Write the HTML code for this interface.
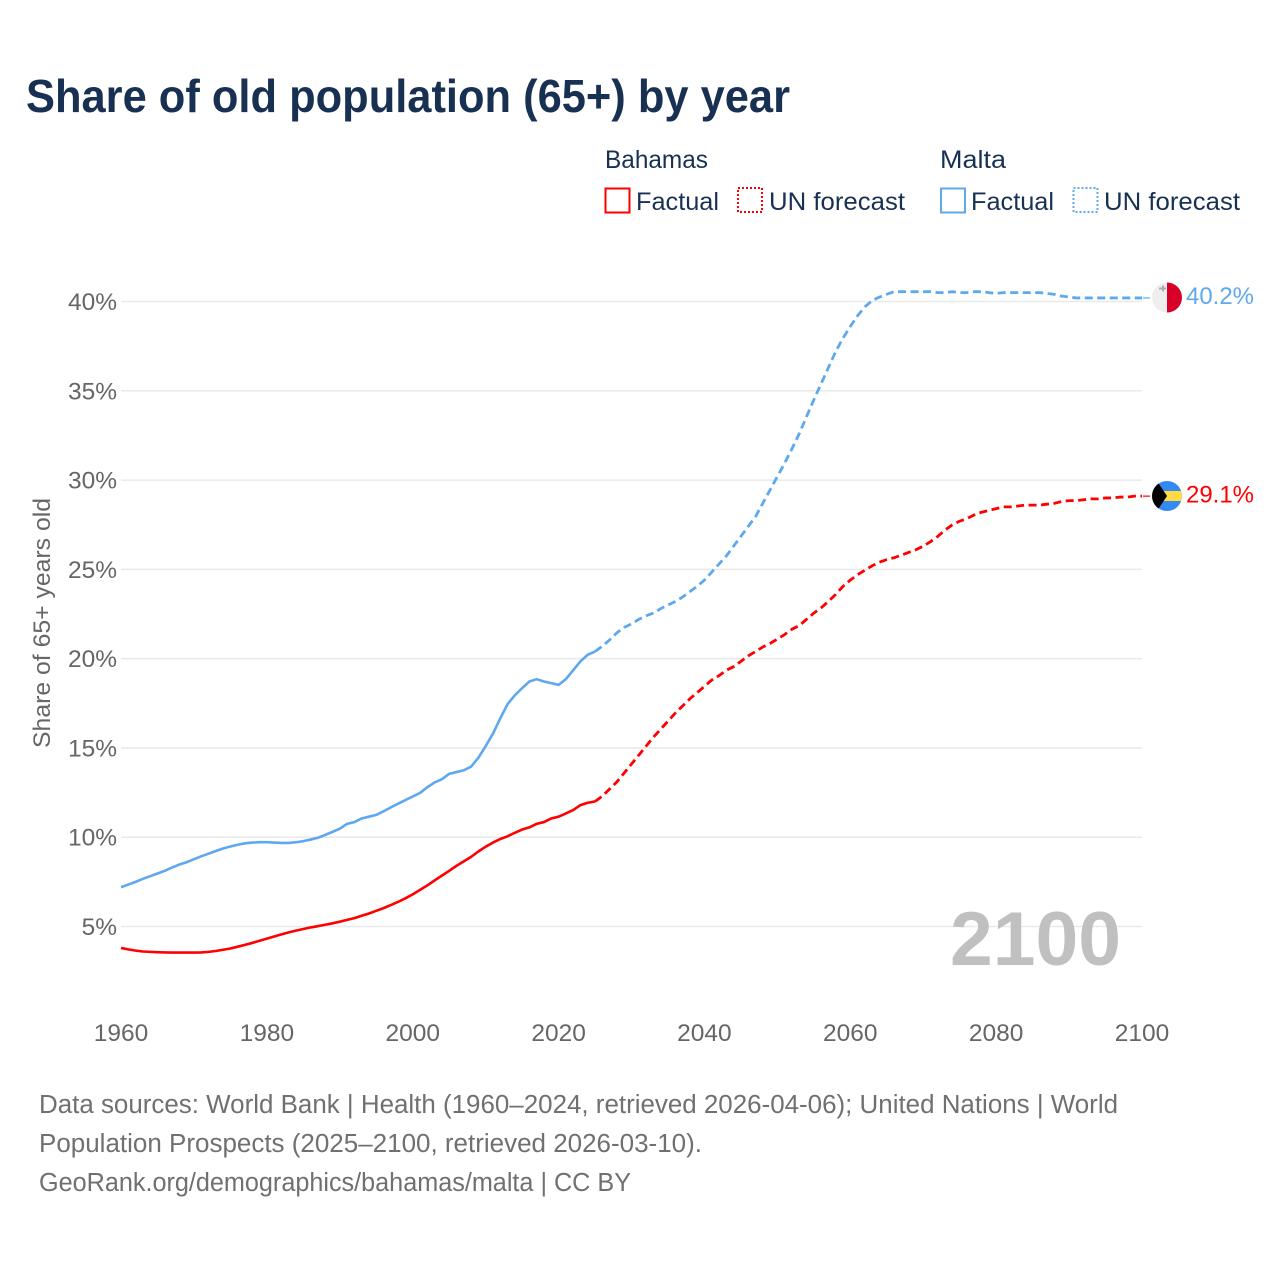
<!DOCTYPE html>
<html lang="en">
<head>
<meta charset="utf-8">
<title>Share of old population (65+) by year</title>
<style>
html,body{margin:0;padding:0;background:#fff;}
svg{display:block;}
text{font-family:"Liberation Sans",sans-serif;}
</style>
</head>
<body>
<svg id="chart" xmlns="http://www.w3.org/2000/svg" width="1280" height="1280" viewBox="0 0 1280 1280">
  <rect width="1280" height="1280" fill="#fff"/>
  <text x="26" y="112" font-size="46" font-weight="700" fill="#183153" textLength="764" lengthAdjust="spacingAndGlyphs">Share of old population (65+) by year</text>

  <g font-size="25" fill="#183153">
    <text x="605" y="168" textLength="103" lengthAdjust="spacingAndGlyphs">Bahamas</text>
    <text x="940" y="168" textLength="66" lengthAdjust="spacingAndGlyphs">Malta</text>
    <rect x="605.5" y="188.5" width="24" height="24" fill="none" stroke="#ff0000" stroke-width="2"/>
    <text x="636" y="210" textLength="83" lengthAdjust="spacingAndGlyphs">Factual</text>
    <rect x="738" y="188" width="24" height="24" fill="none" stroke="#ff0000" stroke-width="2" stroke-dasharray="2 2"/>
    <text x="769" y="210" textLength="136" lengthAdjust="spacingAndGlyphs">UN forecast</text>
    <rect x="941" y="188.5" width="24" height="24" fill="none" stroke="#5fa8ee" stroke-width="2"/>
    <text x="971" y="210" textLength="83" lengthAdjust="spacingAndGlyphs">Factual</text>
    <rect x="1073.5" y="188" width="24" height="24" fill="none" stroke="#5fa8ee" stroke-width="2" stroke-dasharray="2 2"/>
    <text x="1104" y="210" textLength="136" lengthAdjust="spacingAndGlyphs">UN forecast</text>
  </g>

  <g id="grid"></g>
  <g id="yticks"></g>
  <g id="xticks"></g>

  <text transform="translate(50,623) rotate(-90)" text-anchor="middle" font-size="24.5" fill="#666" textLength="250" lengthAdjust="spacingAndGlyphs">Share of 65+ years old</text>

  <text x="950" y="965" font-size="76" font-weight="700" fill="#bbbbbb" fill-opacity="0.93" textLength="171" lengthAdjust="spacingAndGlyphs">2100</text>

  <g id="series"></g>

  <defs>
    <clipPath id="flag-clip-mt"><circle cx="1167" cy="297.5" r="15"/></clipPath>
    <clipPath id="flag-clip-bs"><circle cx="1167" cy="496" r="15"/></clipPath>
  </defs>
  <g clip-path="url(#flag-clip-mt)">
    <rect x="1152" y="282" width="15" height="31" fill="#eeeeee"/>
    <rect x="1167" y="282" width="15" height="31" fill="#d80027"/>
    <path d="M1159 287.5h3v-2h2v2h2v2h-2v2h-2v-2h-3z" fill="#acacac"/>
  </g>
  <g clip-path="url(#flag-clip-bs)">
    <rect x="1152" y="481" width="30" height="30" fill="#338af3"/>
    <rect x="1152" y="491" width="30" height="10" fill="#ffda44"/>
    <path d="M1157 481 L1167 496 L1157 511 L1150 511 L1150 481 Z" fill="#000"/>
  </g>
  <text x="1186" y="304" font-size="24.5" fill="#5fa8ee" textLength="68" lengthAdjust="spacingAndGlyphs">40.2%</text>
  <text x="1186" y="502.5" font-size="24.5" fill="#ff0000" textLength="68" lengthAdjust="spacingAndGlyphs">29.1%</text>

  <g font-size="25.5" fill="#707070">
    <text x="39" y="1113" textLength="1079" lengthAdjust="spacingAndGlyphs">Data sources: World Bank | Health (1960–2024, retrieved 2026-04-06); United Nations | World</text>
    <text x="39" y="1152" textLength="663" lengthAdjust="spacingAndGlyphs">Population Prospects (2025–2100, retrieved 2026-03-10).</text>
    <text x="39" y="1191" textLength="592" lengthAdjust="spacingAndGlyphs">GeoRank.org/demographics/bahamas/malta | CC BY</text>
  </g>
</svg>
<script>
const firstYear = 1960;
const lastFactualYear = 2025;
const xTickYears = [1960, 1980, 2000, 2020, 2040, 2060, 2080, 2100];
const yTickValues = [5, 10, 15, 20, 25, 30, 35, 40];
const bahamasFactual = [3.8,3.72,3.65,3.6,3.58,3.56,3.55,3.54,3.54,3.54,3.54,3.55,3.58,3.63,3.7,3.77,3.87,3.97,4.08,4.2,4.32,4.44,4.56,4.67,4.77,4.86,4.95,5.02,5.1,5.18,5.27,5.37,5.47,5.6,5.73,5.88,6.03,6.2,6.38,6.58,6.8,7.05,7.3,7.58,7.85,8.12,8.4,8.65,8.9,9.2,9.47,9.7,9.9,10.05,10.25,10.43,10.55,10.75,10.85,11.05,11.15,11.33,11.52,11.8,11.93,12.0];
const bahamasForecast = [12.3,12.7,13.1,13.6,14.1,14.6,15.1,15.6,16.05,16.5,16.95,17.35,17.75,18.1,18.45,18.8,19.05,19.35,19.55,19.85,20.15,20.4,20.65,20.85,21.1,21.35,21.65,21.85,22.2,22.55,22.85,23.2,23.6,24.05,24.4,24.7,24.95,25.2,25.4,25.55,25.65,25.8,25.95,26.1,26.3,26.55,26.85,27.2,27.5,27.7,27.85,28.05,28.2,28.3,28.4,28.5,28.5,28.55,28.6,28.6,28.6,28.65,28.7,28.8,28.85,28.85,28.9,28.95,28.95,29,29,29.05,29.05,29.1,29.1];
const maltaFactual = [7.2,7.35,7.5,7.67,7.82,7.97,8.12,8.3,8.47,8.6,8.77,8.93,9.08,9.23,9.37,9.48,9.58,9.66,9.7,9.72,9.72,9.7,9.68,9.68,9.72,9.78,9.87,9.97,10.13,10.3,10.48,10.75,10.85,11.05,11.15,11.25,11.45,11.67,11.88,12.08,12.28,12.48,12.8,13.07,13.25,13.55,13.65,13.75,13.95,14.45,15.1,15.8,16.65,17.45,17.95,18.35,18.72,18.85,18.72,18.63,18.53,18.85,19.35,19.85,20.22,20.4];
const maltaForecast = [20.7,21.05,21.45,21.75,21.95,22.2,22.4,22.55,22.8,23.0,23.2,23.45,23.75,24.05,24.4,24.85,25.3,25.75,26.3,26.85,27.4,27.95,28.7,29.45,30.2,30.95,31.75,32.6,33.55,34.5,35.4,36.3,37.2,37.95,38.6,39.2,39.7,40.05,40.25,40.4,40.55,40.55,40.55,40.55,40.55,40.55,40.5,40.5,40.55,40.5,40.5,40.55,40.55,40.5,40.45,40.5,40.5,40.5,40.5,40.5,40.5,40.45,40.4,40.3,40.25,40.2,40.2,40.2,40.2,40.2,40.2,40.2,40.2,40.2,40.2];

const NS = 'http://www.w3.org/2000/svg';
function xScale(year) { return 121 + (year - 1960) * (1142 - 121) / 140; }
function yScale(value) { return 1015.8 - value * (926.5 - 301.5) / 35; }

function make(tag, attrs, parent) {
  const el = document.createElementNS(NS, tag);
  for (const k in attrs) el.setAttribute(k, attrs[k]);
  parent.appendChild(el);
  return el;
}

const gridGroup = document.getElementById('grid');
const yTickGroup = document.getElementById('yticks');
const xTickGroup = document.getElementById('xticks');
const seriesGroup = document.getElementById('series');

yTickValues.forEach(function (v) {
  const line = make('line', {x1: 121, x2: 1142, y1: yScale(v), y2: yScale(v), stroke: '#e9e9e9', 'stroke-width': 1.5}, gridGroup);
  
  
  const label = make('text', {x: 117, y: yScale(v) + 8.5, 'text-anchor': 'end', 'font-size': 24.5, fill: '#666'}, yTickGroup);
  
  
  label.textContent = v + '%';
});

xTickYears.forEach(function (year) {
  const label = make('text', {x: xScale(year), y: 1041, 'text-anchor': 'middle', 'font-size': 24.5, fill: '#666'}, xTickGroup);
  
  
  label.textContent = String(year);
});

function buildPath(values, startYear) {
  return values.map(function (v, i) {
    return (i ? 'L' : 'M') + xScale(startYear + i).toFixed(2) + ' ' + yScale(v).toFixed(2);
  }).join(' ');
}

function drawSeries(name, color, factual, forecast) {
  const solid = make('path', {d: buildPath(factual, firstYear), fill: 'none', stroke: color, 'stroke-width': 2.6, 'stroke-linejoin': 'round'}, seriesGroup);
  
  
  const joined = [factual[factual.length - 1]].concat(forecast);
  const dashed = make('path', {d: buildPath(joined, lastFactualYear), fill: 'none', stroke: color, 'stroke-width': 2.8, 'stroke-dasharray': '8 4.5', 'stroke-linejoin': 'round'}, seriesGroup);
  
  
  const endY = yScale(forecast[forecast.length - 1]);
  const connector = make('line', {x1: 1143, x2: 1150, y1: endY, y2: endY, stroke: color, 'stroke-width': 1.5, 'stroke-opacity': 0.8}, seriesGroup);
  
  
}

drawSeries('malta', '#5fa8ee', maltaFactual, maltaForecast);
drawSeries('bahamas', '#ff0000', bahamasFactual, bahamasForecast);
</script>
</body>
</html>
